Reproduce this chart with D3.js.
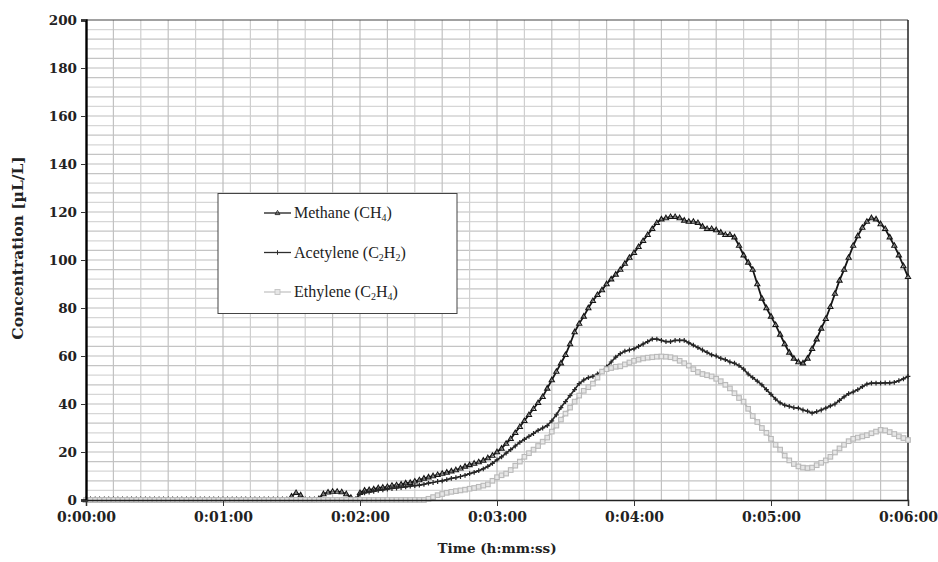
<!DOCTYPE html>
<html><head><meta charset="utf-8">
<script src="https://cdn.jsdelivr.net/npm/d3@7"></script>
<style>body{margin:0;background:#fff}svg{display:block}</style>
</head><body><svg id="c" width="938" height="562"></svg>
<script>
// time in seconds, every 2 s from 0 to 360
const times = d3.range(0, 361, 2);
const xTickLabels = ["0:00:00","0:01:00","0:02:00","0:03:00","0:04:00","0:05:00","0:06:00"];
const yTickLabels = [0,20,40,60,80,100,120,140,160,180,200];
const seriesNames = ["Methane", "Acetylene", "Ethylene"];

const methane = [
0,0,0,0,0,0,0,0,0,0, 0,0,0,0,0,0,0,0,0,0, 0,0,0,0,0,0,0,0,0,0, 0,0,0,0,0,0,0,0,0,0,
0,0,0,0, // t=0..86
0,1.5,3,2,0, 0,0, // 88..100
0.5,2.5,3.2,3.5,3.5,3.3,2.5,1,0, // 102..118
3,4,4.2,4.5,5,5.2,5.5,6,6.2,6.5, // 120..138
7,7.2,7.8,8.3,9,9.5,10,10.5,11,11.5, // 140..158
12,12.5,13.2,14,14.6,15.2,15.8,16.5,17.5,18.5, // 160..178
20,21.5,23.5,25.5,28,30.5,33,35.5,38,40.5, // 180..198
43,46.5,50,53.5,57,60.5,65,70,73.5,76.5, // 200..218
80,83,85.5,87.5,90,92,94,96,98.5,101, // 220..238
103,105.5,108,110.5,113,115.5,117,117.5,118,118, // 240..258
117.5,116.5,116,116,115.5,114,113,113,112.5,111.5, // 260..278
110.5,110.5,109.5,106,102,99,96,90,84,80, // 280..298
76.5,73,69,65,61.5,59,57.5,57,59,63, // 300..318
67,71.5,75.5,80.5,86,91.5,96,101,106,110, // 320..338
113.5,116,117.5,117,115,113,109.5,106,102,97.5, // 340..358
93 // 360
];

const acetylene = [
0,0,0,0,0,0,0,0,0,0, 0,0,0,0,0,0,0,0,0,0, 0,0,0,0,0,0,0,0,0,0, 0,0,0,0,0,0,0,0,0,0,
0,0,0,0,0,0,0,0,0,0, 0,0,0,0,0,0,0,0,0,0, // t=0..118
2.5,3,3.3,3.6,4,4.2,4.5,4.8,5,5.2, // 120..138
5.5,5.8,6,6.2,6.5,7,7.3,7.7,8,8.5, // 140..158
9,9.3,9.8,10.3,11,11.5,12.2,13,14,15.3, // 160..178
16.7,18,19.5,21,22.5,24,25.3,26.5,27.7,29, // 180..198
30,31,33,35.5,38.5,41,43.5,46,48.5,50, // 200..218
51,51.5,52.5,53.5,55.5,57.5,59.5,61,62,62.5, // 220..238
63,64,65,66,67,67,66.5,66,66,66.5, // 240..258
66.5,66.5,65.5,64.5,63.5,62.5,61.5,60.5,60,59, // 260..278
58.5,57.5,57,56,54.5,52.5,51,49.5,48,46, // 280..298
44,42,40.5,39.5,39,38.5,38.3,37.5,37,36.2, // 300..318
36.8,37.5,38.3,39.2,40,41.5,43,44.3,45,46, // 320..338
47.2,48.3,48.7,48.7,48.7,48.8,48.8,49,49.7,50.5, // 340..358
51.5 // 360
];

const ethylene = [
0,0,0,0,0,0,0,0,0,0, 0,0,0,0,0,0,0,0,0,0, 0,0,0,0,0,0,0,0,0,0, 0,0,0,0,0,0,0,0,0,0,
0,0,0,0,0,0,0,0,0,0, 0,0,0,0,0,0,0,0,0,0, 0,0,0,0,0,0,0,0,0,0, 0,0,0,0,0, // t=0..148
0.5,1.2,2,2.5,3,3.4,3.7,4,4.3,4.7, // 150..168
5,5.5,6,6.5,8,9.5,10.3,11,12.5,14.3, // 170..188
16,18,19.5,21,22.5,24.3,26,28.5,31,33.5, // 190..208
36,38.5,41,43.5,45.5,47,48.5,51,53.5,54.5, // 210..228
55,55.5,55.7,56.5,57.3,58,58.5,59,59.3,59.5, // 230..248
59.7,59.8,59.7,59.5,59,58,57,56,54.5,53.3, // 250..268
52.5,52,51.5,50.5,49.5,48,46.5,44.5,42.5,41, // 270..288
38,35,32.5,30,28,25.5,23,21,18.5,16.5, // 290..308
15,14,13.5,13.3,13.5,14.5,15.5,16.5,18,19.8, // 310..328
21.5,23,24.5,25.5,26,26.5,27,27.8,28.5,29.2, // 330..348
29,28.3,27.5,26.5,25.8,25 // 350..360
];

const svg = d3.select("#c");
const L = 86, R = 908, T = 20, B = 500;
const x = d3.scaleLinear().domain([0, 360]).range([L, R]);
const y = d3.scaleLinear().domain([0, 200]).range([B, T]);
const axisFont = "'DejaVu Serif', serif";
const legendFont = "'Liberation Serif', serif";

// grid
const g = svg.append("g");
d3.range(4, 200, 4).forEach((v, i) => {
  g.append("line").attr("x1", L).attr("x2", R).attr("y1", y(v)).attr("y2", y(v))
    .attr("stroke", (v % 20 === 0) ? "#bdbdbd" : (i % 2 ? "#c4c4c4" : "#d6d6d6")).attr("stroke-width", 1.2);
});
d3.range(12, 360, 12).forEach((v, i) => {
  g.append("line").attr("y1", T).attr("y2", B).attr("x1", x(v)).attr("x2", x(v))
    .attr("stroke", (v % 60 === 0) ? "#bdbdbd" : (i % 2 ? "#cfcfcf" : "#c2c2c2")).attr("stroke-width", 1.2);
});

// border
svg.append("line").attr("x1", L).attr("x2", R).attr("y1", T).attr("y2", T).attr("stroke", "#444").attr("stroke-width", 1.2);
svg.append("line").attr("x1", R).attr("x2", R).attr("y1", T).attr("y2", B).attr("stroke", "#222").attr("stroke-width", 1.5);

// series
function drawSeries(vals, color, lineW, marker) {
  const data = times.map((t, i) => [t, vals[i]]);
  svg.append("path").datum(data)
    .attr("d", d3.line().x(d => x(d[0])).y(d => y(d[1])))
    .attr("fill", "none").attr("stroke", color).attr("stroke-width", lineW);
  const mg = svg.append("g");
  data.forEach(d => {
    const cx = x(d[0]), cy = y(d[1]);
    if (marker === "tri") {
      mg.append("path").attr("d", `M${cx},${cy-2.8}L${cx+2.6},${cy+1.7}L${cx-2.6},${cy+1.7}Z`)
        .attr("fill", "#fff").attr("fill-opacity", 0.4).attr("stroke", color).attr("stroke-width", 1.1);
    } else if (marker === "plus") {
      mg.append("path").attr("d", `M${cx-2.4},${cy}H${cx+2.4}M${cx},${cy-2.4}V${cy+2.4}`)
        .attr("stroke", color).attr("stroke-width", 1.2);
    } else {
      mg.append("rect").attr("x", cx - 2.3).attr("y", cy - 2.3).attr("width", 4.6).attr("height", 4.6)
        .attr("fill", "#e6e6e6").attr("stroke", color).attr("stroke-width", 1.1);
    }
  });
}
drawSeries(methane, "#151515", 1.8, "tri");
drawSeries(acetylene, "#262626", 1.7, "plus");
drawSeries(ethylene, "#b9b9b9", 1.9, "sq");

// axes
const yAxis = d3.axisLeft(y).tickValues(yTickLabels).tickSize(5).tickPadding(4);
const ya = svg.append("g").attr("transform", `translate(${L},0)`).call(yAxis);
ya.select(".domain").attr("stroke", "#000").attr("stroke-width", 2.4);
ya.selectAll(".tick line").attr("stroke", "#333");
ya.selectAll("text").attr("font-family", axisFont).attr("font-weight", "bold").attr("font-size", 13.5).attr("fill", "#222");

const xAxis = d3.axisBottom(x).tickValues(d3.range(0, 361, 60)).tickFormat((d, i) => xTickLabels[i]).tickSize(6).tickPadding(6);
const xa = svg.append("g").attr("transform", `translate(0,${B})`).call(xAxis);
xa.select(".domain").attr("stroke", "#222").attr("stroke-width", 1.5);
xa.selectAll(".tick line").attr("stroke", "#333");
xa.selectAll("text").attr("font-family", axisFont).attr("font-weight", "bold").attr("font-size", 14).attr("fill", "#222");

svg.append("text").attr("x", 497).attr("y", 553).attr("text-anchor", "middle")
  .attr("font-family", axisFont).attr("font-weight", "bold").attr("font-size", 13.5).attr("fill", "#222")
  .text("Time (h:mm:ss)");
svg.append("text").attr("transform", "translate(23,248) rotate(-90)").attr("text-anchor", "middle")
  .attr("font-family", axisFont).attr("font-weight", "bold").attr("font-size", 15.5).attr("fill", "#222")
  .text("Concentration [µL/L]");

// legend
const lg = svg.append("g");
lg.append("rect").attr("x", 218).attr("y", 193.5).attr("width", 239).attr("height", 120)
  .attr("fill", "#fff").attr("stroke", "#444").attr("stroke-width", 1);
const legendItems = [
  {name: seriesNames[0], f1: "CH", s1: "4", f2: "", s2: "", color: "#1e1e1e", m: "tri"},
  {name: seriesNames[1], f1: "C", s1: "2", f2: "H", s2: "2", color: "#2e2e2e", m: "plus"},
  {name: seriesNames[2], f1: "C", s1: "2", f2: "H", s2: "4", color: "#c4c4c4", m: "sq"}
];
legendItems.forEach((it, i) => {
  const cy = 213 + i * 39.5;
  lg.append("line").attr("x1", 264).attr("x2", 291).attr("y1", cy).attr("y2", cy).attr("stroke", it.color).attr("stroke-width", 1.3);
  const cx = 277.5;
  if (it.m === "tri") lg.append("path").attr("d", `M${cx},${cy-2.6}L${cx+2.4},${cy+1.6}L${cx-2.4},${cy+1.6}Z`).attr("fill", "none").attr("stroke", it.color).attr("stroke-width", 0.9);
  else if (it.m === "plus") lg.append("path").attr("d", `M${cx},${cy-2.3}V${cy+2.3}`).attr("stroke", it.color).attr("stroke-width", 1);
  else lg.append("rect").attr("x", cx - 2.5).attr("y", cy - 2.5).attr("width", 5).attr("height", 5).attr("fill", "#e6e6e6").attr("stroke", it.color).attr("stroke-width", 0.9);
  const t = lg.append("text").attr("x", 294).attr("y", cy + 5).attr("font-family", legendFont).attr("font-size", 16).attr("fill", "#222");
  t.append("tspan").text(it.name + " (" + it.f1);
  t.append("tspan").attr("font-size", 10).attr("dy", 3).text(it.s1);
  if (it.f2) {
    t.append("tspan").attr("dy", -3).text(it.f2);
    t.append("tspan").attr("font-size", 10).attr("dy", 3).text(it.s2);
  }
  t.append("tspan").attr("dy", -3).text(")");
});
</script></body></html>
